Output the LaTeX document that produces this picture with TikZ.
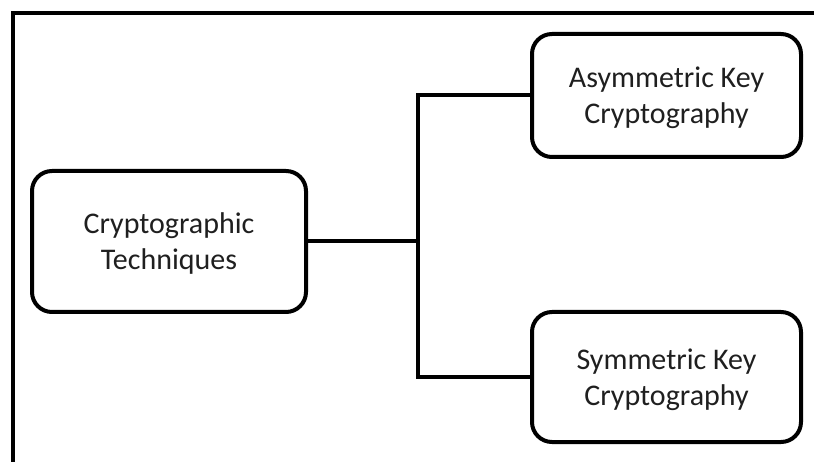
\documentclass[tikz,border=0pt]{standalone}
\usepackage{fontspec}
\setmainfont{Carlito}
\begin{document}
\begin{tikzpicture}[x=1pt,y=-1pt,
  techbox/.style={draw=black, line width=4pt, rounded corners=20pt,
    align=center, inner sep=0pt, text=black!88,
    font=\fontsize{30}{36}\selectfont,
    % ignore the descenders of the last line when centring the text
    text depth=0pt},
  link/.style={draw=black, line width=4pt}]
  \useasboundingbox (0,0) rectangle (814,462);
  % outer frame (runs off the right and bottom edges)
  \begin{scope}
    \clip (0,0) rectangle (814,462);
    \draw[line width=4pt] (13,480) -- (13,13) -- (830,13);
  \end{scope}
  % boxes
  \node[techbox, minimum width=274pt, minimum height=141pt] (ct) at (169,241.5)
    {Cryptographic\\Techniques};
  \node[techbox, minimum width=269pt, minimum height=123pt] (ak) at (666.5,95.5)
    {Asymmetric Key\\Cryptography};
  \node[techbox, minimum width=269pt, minimum height=130pt] (sk) at (666.5,377)
    {Symmetric Key\\Cryptography};
  % connectors
  \coordinate (fork) at (418,241.5);
  \draw[link] (ct.east) -- (fork);
  \draw[link] (ak.west) -| (fork) |- (sk.west);
\end{tikzpicture}
\end{document}
